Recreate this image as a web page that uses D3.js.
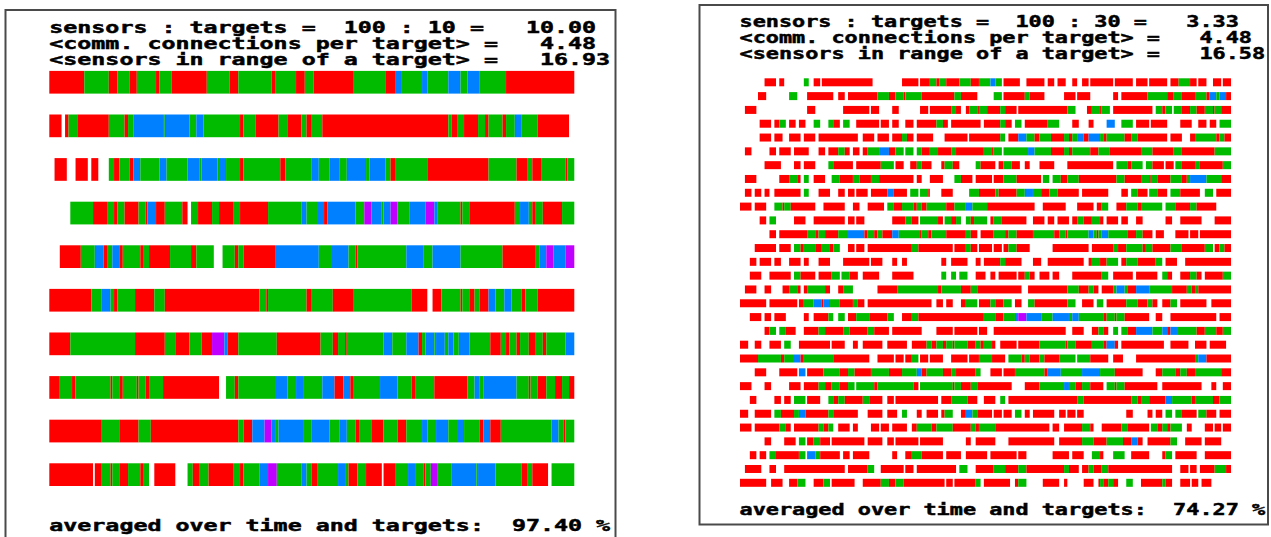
<!DOCTYPE html>
<html>
<head>
<meta charset="utf-8">
<script src="https://cdn.jsdelivr.net/npm/d3@7"></script>
<style>
  html, body { margin: 0; padding: 0; background: #fff; }
  svg { display: block; }
  .label { font-family: "DejaVu Sans Mono", monospace; font-weight: bold; font-size: 15px; fill: #000; stroke: #000; stroke-width: 0.45px; white-space: pre; }
</style>
</head>
<body>
<svg id="chart" width="1271" height="537"></svg>
<script>
// states a target can be in; r = one sensor, g = two, b = three, m = four or more
const STATES = ['r', 'g', 'b', 'm'];
const STATE_COLORS = ['#ff0000', '#00bb00', '#0080ff', '#c000ff'];
const TIME_STEPS = 300;

// row format: "start" followed by state+end pairs, blocks separated by spaces
const leftHeader = [
  'sensors : targets =  100 : 10 =   10.00',
  '<comm. connections per target> =   4.48',
  '<sensors in range of a target> =   16.93'
];
const leftFooter = 'averaged over time and targets:  97.40 %';
const leftRows = [
  '0r20g34r39g46r50g61r63g70r90g103r108g127r129g141r146g151r174g192r198b201g213b216g228b235g239b246g261r300',
  '0r7 9r11g16r34g43r45g48b65g66b80g84b88g109r111g118r131g136r144g147r150g156r228g230r233g237r245g249r251g259r261g266b270g279r297',
  '3r10 15r22 24r28 34g37r40g46r48b52g63b67g79b86g87b96g97b101g109r111g132r135g150b154g160b166g170b181g183b192g195r198g216r251g267r273g276r281g295r296g300',
  '12g25r33g37r39g43r51g55r56b61r66g76r79 81g85r93g97r105g109r125g144b147g153b157r159b175g180m184b190g191b195m199g206b215m220b222g235r236g240r266g269b274g276r278g282r293g300',
  '6r18g26b31r33g36b40r42g52r54g57r69g81r84g94 99g106r108g111r129b154g161b171g175r176g204b214g219b235g259r278g280b284m288b295m300',
  '0r24g30b35g37r39g49r60g66r120g124r125g147r150g162r174g207r216 219r224g235r236g240r243g246r251b255g260b264g270r272g279r300',
  '0r12g49r66g72r80g87r93m100b102r108g130r155g162r165g169r170g191b196g204b211r213g215b220g221b226g228b231g234b240g252r258g261r263g267r269g274r278g282r284g295b300',
  '0r6g13r15g35r36g40r42g50r51g55r57g65r97 101g106r108g129b136g141b145g156b163r168b172r174g189b199g207r209g220r239g243b246g248b267g274r275g279r284g289r293g297r300',
  '0r30g40r51g58r108g111r116b123m127b129g131b145g150b160g166b170g175r177g184r191g199r204g213b216g221b228g233b237g246r248b252r258g287b291g294r295g300',
  '0r25 26r30g35r36g40r45g52r54g57 60r72 79g82r86g91r105g109r111g120b125m130g144b147g150r153g165b169g171r176g181r190 191r198g205b209g214r215g218m222g230b244g245b255g270r273g276r285 287g300'
];

const rightHeader = [
  'sensors : targets =  100 : 30 =   3.33',
  '<comm. connections per target> =   4.48',
  '<sensors in range of a target> =   16.58'
];
const rightFooter = 'averaged over time and targets:  74.27 %';
const rightRows = [
  '15r22 24r27 39g42 45r49 50r81 99r109 110r116g120r122g126r134g141r146g153b156g160 161r171 175r186 188r192 194r199 203r206 209r213 214r228 229r240 242r249 250r261 263r268g275r279 280r285 289r294 295r300',
  '11r16 30g35 41r57 60r64 66r84g91r95g100r101g111r131g135r145 155g160 161r174g177r186 198r205 206r214 228r231 233r249g261r265g270r278g285r287b291g293b297r300',
  '3r10 41r46 63r79 80r85 93r97 110r115 116r129g132r135 138r140g145r146g151r159g162r169 170r200g205 212r215g220r221g226 228r252 254g258r260g264 265g270r275g279r284g289r290g294r300',
  '12r19 21r24g28 30r34 36r40 45g49 54g57r61 63g67 71r85 86r91 93r97 101r106 108r120g124r127 129r147 149r159g162r166 168g172 174r188g195 203r207 213r216 224b229 233g240 242r250 251r261 269r276 280r285 287r291 293g300',
  '12r19 21r26 30r37 39r46 48r72 75r82 84r91 93r99g102r106 108r118 125r139 140r159g162 164r170b175g180r183g190r198g201r203g206b210r213b220g222r224g235r239g243r261 263r270 275r278g291r293g296r300',
  '3r7 18r22 24r31 33r42 48r52 54r60g64r67 69r73 75r78g85b91r95g100 101g106 108g111r116g121r129g132r149g154r155g160 161g176b180g190r198g201r203g214r219g226r245g252r265g270r290g300',
  '15r25 33r37 39r46 54g57r69 71r86g94 95r100 104r108g111r117 123r125g130r134 144g147r156 158r161g166r171 174r177 183r192 200r228 230g237r239g246 248g252r259 260r265 266g270r278g281r295g300',
  '3r10 24r30g35r37 39g42 45r52 56g61r69g73r80g85r106 108r111 116r124 131g135r142 144r154 155r161g169r184 185g189 191g196r200g207r230g235r245g250r251g255r263g270r273g275b285g294r300',
  '3r7 9r13 15r18 21r37 39g42 48r55 60r64 66r70 71r78 80r90b94r102 104g109 110g115r116 123r130 140g146r156g158r169g174b179g184r189g194r207 209r225 233r237 239g243r249 250g255r261 263g269r281 284g289 291r300',
  '0r7 9r16 21g26r27g31r46 51r64 69r73 78r88 90g94r99g106r108g111r114g126r131g138b142g151r180 185r199 206r216 218r221g225 230r236g243r245g258 260g266r275g279r291',
  '12r16 18g22 33r40 45r64 66r70 71r76 93r101g105r109 110g121r124 125g129r132g135 138g141r143g151 153r155g160r175 179r186 188r192 194r201 203r206g210r215g220r222 224r231 233r237 242r246 260r264 269r282 290r300',
  '18r22 24r41g46r48g52r60g66b76r78g82r84g87r93b97g110r111g115r117g126r138g141r145 147r155g162r164g169r179g192r195g199r200g213b216g218r219g221b225g237r242g246r252 254r259 266r274 275r280 281r300',
  '9r22 24r31 33g37r39g46r50g55r57g61 66r70 71r76 78r105g109r130 131r138g141r145 146r154 155r160 161r164g169r177 191r213 215r228g231r236g246r248g252r263g270r284g289 290r293g296r300',
  '6r10 12r19 21r25 30r37 39r42 48r55 63r79 80r87 93r96 99r102 123r126 129r139 144r147 149r159g162r172 179r184 188r210 213r215g220r224g231 233r236g243r254g258 260r267 272r300',
  '6r13 18r31 33g37r46 48r56g61 62g67r72 75r85 93r106 123g126 129g132 134g139 144r150 153r156 158r169 170r174g177r180 183r189 191r195 203r221g225 228r240 242r255 258g261r264 269r275g279r282 284r295g300',
  '3r10 15r19 26r30g35r37 39r41g52r55 60r63g69 84r96g121r123g135r141g145r172 176r200g207r213g216r219 221r228g230b235g237r242b250g264r273g276r278g280r300',
  '0r16 18r35 36r39g45b50r51b55g61r69g72r76 78r117 120r124 126r130 135r138g145 146r153g156r161g166 168r172 176g180r200g205 209r216 218g222 224r236g243r249g252r255 258r263g267 269r285 288r300',
  '6r13 15r19 21r28 39r42 45r54g57 60g64 66r71g79r90g94 99r105g109r149g156r161g168b170m175b184g191b201g203b207g222r224g229r230g235r250 254r258 263r291 293r300',
  '15r18g22 24g28r34 39r48g52r63g67r78g82r91 93r111 120r130 131r145 146r151 155r199 203r210 215r219g222r225 228g231 233g237r242b252g258b261r263b267g279r284g291r295g300',
  '0r5 9r13 18r25 27g31 36r55 56r64 69r72 75r87 90r102 105r114g117r120g124r126g130r131g139r144g147r149g154r156 159r169 170r183g199r200g205r215g222r224b229r231 233r259 263r274 278r285 287r297',
  '0r11g25r27g33b37r39g57r79 84r94 95r100 101r105g109 110r115 116r124 129r139 140r146g154r162 164g172r174g177r183g186r195g205 206g214r225 228r234 242r278g280b285r300',
  '9r16 24r35 36b40 41r51g61r66g70r80g91r99g108b111r114g124r129g132r144g147 153r160 161r168g186r188b196g209b220g229r246 254r258g266r269g273r278g294r300',
  '0r7 15r19 30r37 39r48g52r56g61r66g70 71g82r84g106r109 110g130r131g135r141g145r166 174r183g198b201g205r209g214r222 224g229r230g235r255 258r282 288r291 295r300',
  '6r10 21r25 27r31 33g40 41r49 54g57r60g64r75g79r87 90r94 95r121 123r129g139r145 149r156 159g162 164r206g210r239g243r245g250r260b264g276r278g289r293g300',
  '0r5 9r19 21g25r33g36b40r54g57r72 78r87 90r96 99g102 108r111 114r121 123r125g130 135r138b142g145r154 155r160 161r166 168g172 174r177 179r192 195r199 200r205 206r210 236r240 249r252 254r258 260g264 266g270r279 280g285r291 293r300',
  '0r7 9r24g28r31 33r48g51r54g57 60r67 69r72 80r85 86r91 93r102 105r108g117r120g130r141g144r146g156r189 191r195 198r209g214r216 221r233g237r250 251g255r258g261r263g270 273r276 284r289 290r294 295r300',
  '15r19 27r34 36g40 41r45g49r55 56r76 78r87 90r94 95r109 110r124 138r141 144r156 164r192 195r209g216r224g234r239b243r246 249r263g267 272r282 284r294',
  '6r10 12r16 18g22r36g40 41b46g49r61 63r67 69r79 93r96 101r105g111r124 126r135 138r151 153r169 170r175 191r201 203r210 215g220r222 228g235 239r250 258r260g264 266r279 284r300',
  '3r13 18r22 27r64 66r78g82 86r100 101r106 108r132 134g139 144r155g162r170g175r198g201r207 209r213g216r221g225r264 269r274 275r279 281r290g297r300',
  '0r16 19r26 30r35g40 45r51g55 56r70 75r86g91r95g100r125 126r130 131r144g147 149r165 168r170g175 185r195 198r200 210r216 219r220g222r225g228r231 236g240 245r258g260r264 269r275 276r280 282r288'
];

function parseRow (str) {
  const segs = [];
  str.trim().split(/\s+/).forEach(tok => {
    const m = tok.match(/^(\d+)(.*)$/);
    let t = +m[1];
    for (const [, state, end] of m[2].matchAll(/([rgbm])(\d+)/g)) {
      segs.push({ state, t0: t, t1: +end });
      t = +end;
    }
  });
  return segs;
}

const svg = d3.select('#chart');
const color = d3.scaleOrdinal().domain(STATES).range(STATE_COLORS);

function drawPanel (p) {
  const g = svg.append('g');

  g.append('rect')
    .attr('x', p.frame[0]).attr('y', p.frame[1])
    .attr('width', p.frame[2] - p.frame[0]).attr('height', p.frame[3] - p.frame[1])
    .attr('fill', '#fff')
    .attr('stroke', '#4a4a4a')
    .attr('stroke-width', 2);

  const x = d3.scaleLinear().domain([0, TIME_STEPS]).range(p.xRange);
  const y = d3.scaleBand()
    .domain(d3.range(p.rows.length))
    .range(p.yRange)
    .paddingInner(p.padding)
    .paddingOuter(0)
    .align(0);

  const rows = g.selectAll('g.row')
    .data(p.rows.map(parseRow))
    .join('g')
    .attr('class', 'row')
    .attr('transform', (d, i) => `translate(0,${y(i)})`);

  rows.selectAll('rect')
    .data(d => d)
    .join('rect')
    .attr('x', d => x(d.t0))
    .attr('width', d => x(d.t1) - x(d.t0))
    .attr('height', y.bandwidth())
    .attr('fill', d => color(d.state));

  const lines = p.header.map((t, i) => ({ t, y: p.headerY + i * 16 }))
    .concat([{ t: p.footer, y: p.footerY }]);

  g.selectAll('text.label')
    .data(lines)
    .join('text')
    .attr('class', 'label')
    .attr('x', p.textX)
    .attr('y', d => d.y)
    .attr('textLength', d => d.t.length * p.charW)
    .attr('lengthAdjust', 'spacingAndGlyphs')
    .text(d => d.t);
}

drawPanel({
  frame: [5.5, 10, 615.5, 560],
  rows: leftRows,
  header: leftHeader,
  footer: leftFooter,
  xRange: [49.3, 574.3],
  yRange: [70.9, 486.0],
  padding: 0.479,
  textX: 49.3,
  charW: 14.02,
  headerY: 32.5,
  footerY: 530.5
});

drawPanel({
  frame: [699.5, 5, 1268, 524.5],
  rows: rightRows,
  header: rightHeader,
  footer: rightFooter,
  xRange: [740, 1231],
  yRange: [78.3, 486.8],
  padding: 0.421,
  textX: 739.5,
  charW: 13.14,
  headerY: 27.3,
  footerY: 515.3
});
</script>
</body>
</html>
